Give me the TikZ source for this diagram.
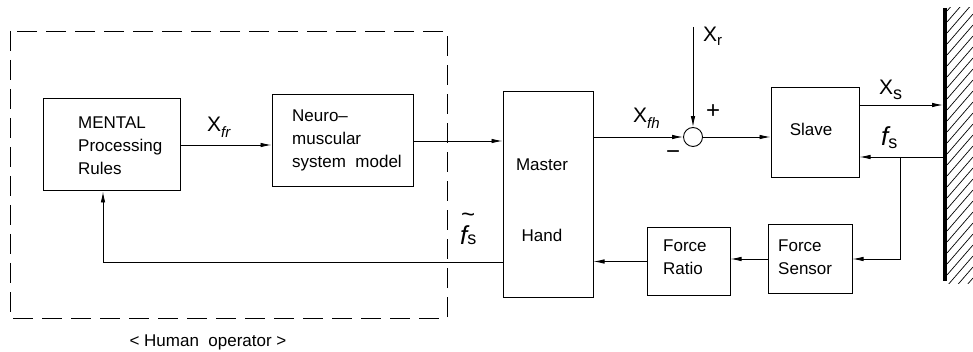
\documentclass[tikz,border=0pt]{standalone}
\usepackage{fontspec}
\setmainfont{Liberation Sans}
\usetikzlibrary{arrows.meta}
\begin{document}
\begin{tikzpicture}[x=1pt,y=-1pt,
  box/.style={draw, line width=1pt, inner sep=0pt},
  txt/.style={font=\fontsize{17}{23}\selectfont, align=left, inner sep=0pt},
  sym/.style={font=\fontsize{21}{21}\selectfont, inner sep=0pt},
  sig/.style={line width=0.9pt, -{Latex[length=11pt,width=4.5pt]}},
  ln/.style={line width=0.9pt},
  dashbox/.style={line width=0.9pt, dash pattern=on 20pt off 9pt}]
\newcommand{\lblsub}[1]{\raisebox{-6pt}{\fontsize{15}{15}\selectfont\itshape #1}}
\useasboundingbox[fill=white] (0,0) rectangle (973,352);
% dashed human operator box
\draw[dashbox] (10,31) rectangle (447,318);
\node[txt, anchor=center] (human) at (208,342) {< Human\ \ operator >};
% blocks
\node[box, minimum width=137pt, minimum height=92pt] (mental) at (111.5,145) {};
\node[txt, anchor=west] (mentalt) at (78,146) {MENTAL\\Processing\\Rules};
\node[box, minimum width=141pt, minimum height=92pt] (neuro) at (342.5,141) {};
\node[txt, anchor=west] (neurot) at (292,140) {Neuro--\\muscular\\system\ \ model};
\node[box, minimum width=90pt, minimum height=205pt] (master) at (548,194.5) {};
\node[txt] (mastert) at (542,165) {Master};
\node[txt] (handt) at (542,235) {Hand};
\node[draw, circle, line width=0.9pt, minimum size=19pt, inner sep=0pt] (sum) at (693,137) {};
\node[box, minimum width=88pt, minimum height=90pt] (slave) at (815,133) {};
\node[txt] (slavet) at (811,129) {Slave};
\node[box, minimum width=84pt, minimum height=68pt] (fsens) at (810,259) {};
\node[txt, anchor=west] (fsenst) at (778,257) {Force\\Sensor};
\node[box, minimum width=83pt, minimum height=67pt] (fratio) at (688.5,261.5) {};
\node[txt, anchor=west] (fratiot) at (663,257) {Force\\Ratio};
% wall
\coordinate (walltop) at (945,8);
\coordinate (wallbot) at (945,281);
\draw[line width=4pt] (walltop) -- (wallbot);
\begin{scope}
  \clip (947,8) rectangle (973,283);
  \foreach \y in {0,11,...,330} \draw[line width=0.7pt] (947,\y) -- ++(26,-30);
\end{scope}
% coordinates
\coordinate (xr) at (693,27);
\coordinate (xs) at (943,105);
\coordinate (fsw) at (943,157);
\coordinate (br) at (900,157);
\coordinate (fbc) at (103,262);
% connectors
\draw[sig] (mental.east) -- (mental.east -| neuro.west);
\draw[sig] (neuro.east) -- (neuro.east -| master.west);
\draw[sig] (sum.west -| master.east) -- (sum.west);
\draw[sig] (xr) -- (sum.north);
\draw[sig] (sum.east) -- (sum.east -| slave.west);
\draw[sig] (xs -| slave.east) -- (xs);
\draw[sig] (fsw) -- (fsw -| slave.east);
\draw[sig] (br) |- (fsens.east);
\draw[sig] (fsens.west) -- (fsens.west -| fratio.east);
\draw[sig] (fratio.west) -- (fratio.west -| master.east);
\draw[sig] (fbc -| master.west) -- (fbc) -- (fbc |- mental.south);
% labels
\node[sym, anchor=base west] (xfr) at (207,132) {X\lblsub{fr}};
\node[sym, anchor=base west] (xfh) at (633,123) {X\lblsub{fh}};
\node[sym, anchor=base west] (xrl) at (703,42) {X\raisebox{-4pt}{\fontsize{15}{15}\selectfont r}};
\node[sym, anchor=base west] (xsl) at (879,95) {X\raisebox{-5pt}{\fontsize{18}{18}\selectfont s}};
\node[sym, anchor=base west] (fsl) at (881,146) {\fontsize{26}{26}\selectfont\itshape f\raisebox{-3pt}{\fontsize{18}{18}\selectfont\upshape s}};
\node[sym, anchor=base west] (ftl) at (460,245) {\fontsize{26}{26}\selectfont\makebox[0pt][l]{\hspace{1pt}\raisebox{22pt}{\fontsize{24}{24}\selectfont\textasciitilde}}\itshape f\raisebox{0pt}{\fontsize{18}{18}\selectfont\upshape s}};
\node[sym] (plus) at (713,112) {\fontsize{24}{24}\selectfont +};
\node[sym] (minus) at (673,155) {\fontsize{24}{24}\selectfont −};
\end{tikzpicture}
\end{document}
